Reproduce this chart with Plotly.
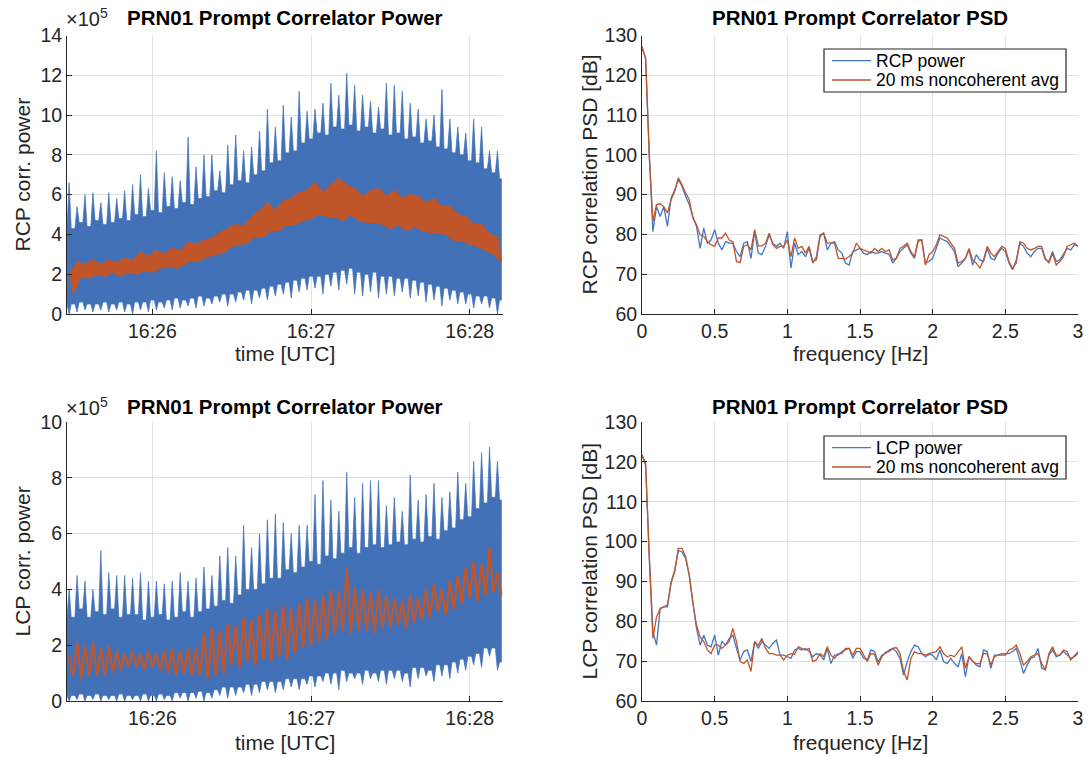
import plotly.graph_objects as go
from datetime import datetime, timedelta

# ---------------- data ----------------
# time axis: seconds relative to 16:26:00 UTC, samples every 3 s, half-steps at +1.5 s
T0 = datetime(2017, 1, 1, 16, 26, 0)
T_START_S = -31.5
T_STEP_S = 3.0
T_RANGE_S = [-32.3, 132.6]
time_ticks = ["16:26", "16:27", "16:28"]

# RCP prompt correlator power [x1e5]: spike tops, band top, band bottom, dips
rcp_peak = [6.6, 5.4, 6.0, 6.1, 5.6, 6.1, 5.8, 6.2, 6.5, 7.0, 6.3,
            8.2, 7.1, 6.9, 6.7, 8.9, 7.4, 8.0, 8.0, 7.2, 8.5,
            9.0, 8.2, 8.4, 9.2, 10.3, 9.4, 10.5, 9.9, 11.2, 10.2,
            10.3, 10.6, 11.6, 11.0, 12.1, 11.5, 11.0, 10.7, 10.4, 11.6,
            11.5, 11.2, 10.6, 10.3, 9.8, 10.0, 11.3, 9.8, 9.4, 9.1,
            9.8, 9.4, 8.2, 8.2]
rcp_top = [4.3, 4.6, 4.4, 4.7, 4.5, 4.6, 4.8, 4.7, 5.0, 4.9, 5.2,
           5.1, 5.4, 5.3, 5.6, 5.5, 5.8, 5.9, 6.2, 6.1, 6.5,
           6.7, 6.6, 7.0, 7.2, 7.6, 7.7, 8.1, 8.2, 8.6, 8.8,
           9.1, 9.0, 9.4, 9.3, 9.5, 9.2, 9.4, 9.1, 9.3, 9.0,
           9.1, 8.8, 8.9, 8.6, 8.7, 8.4, 8.3, 8.1, 8.0, 7.7,
           7.6, 7.3, 7.1, 6.8]
rcp_bottom = [0.5, 0.6, 0.5, 0.5, 0.6, 0.5, 0.6, 0.5, 0.6, 0.6, 0.7,
              0.6, 0.7, 0.8, 0.7, 0.8, 0.9, 0.8, 0.9, 1.0, 1.0,
              1.1, 1.2, 1.2, 1.3, 1.4, 1.5, 1.6, 1.7, 1.8, 1.9,
              1.9, 2.0, 2.1, 2.2, 2.3, 2.1, 2.0, 2.1, 1.9, 1.9,
              1.8, 1.8, 1.7, 1.6, 1.5, 1.4, 1.3, 1.2, 1.1, 1.0,
              0.9, 0.9, 0.8, 0.7]
rcp_dip = [0.0, 0.1, 0.2, 0.1, 0.2, 0.1, 0.2, 0.1, 0.0, 0.2, 0.1,
           0.2, 0.3, 0.2, 0.3, 0.4, 0.3, 0.4, 0.5, 0.6, 0.4,
           0.6, 0.7, 0.5, 0.8, 0.7, 0.9, 1.0, 0.8, 1.1, 1.2,
           1.3, 1.0, 1.4, 1.2, 1.5, 1.0, 0.9, 1.1, 0.8, 1.0,
           0.9, 1.1, 0.8, 0.9, 0.6, 0.7, 0.4, 0.7, 0.5, 0.5,
           0.3, 0.5, 0.3, 0.0]
# RCP 20 ms noncoherent average: upper / lower values
rcp_avg_hi = [2.0, 2.6, 2.5, 2.7, 2.5, 2.7, 2.6, 2.8, 2.7, 3.1, 2.9,
              3.2, 3.0, 3.3, 3.2, 3.6, 3.5, 3.7, 3.8, 4.1, 4.3,
              4.5, 4.4, 4.9, 5.2, 5.6, 5.2, 5.7, 5.8, 6.1, 6.2,
              6.6, 6.1, 6.5, 6.8, 6.5, 6.3, 5.9, 6.2, 6.3, 5.9,
              6.2, 5.8, 6.0, 5.9, 5.6, 5.8, 5.4, 5.4, 5.0, 4.9,
              4.5, 4.5, 4.0, 3.9]
rcp_avg_lo = [1.0, 1.9, 1.8, 2.0, 1.9, 2.1, 1.9, 2.1, 2.0, 2.2, 2.1,
              2.3, 2.4, 2.3, 2.5, 2.7, 2.7, 2.9, 3.0, 3.1, 3.4,
              3.5, 3.6, 3.9, 3.9, 4.2, 4.2, 4.5, 4.5, 4.7, 4.8,
              5.0, 4.9, 4.9, 4.7, 5.0, 4.7, 4.6, 4.6, 4.5, 4.3,
              4.5, 4.2, 4.4, 4.2, 4.1, 4.1, 4.0, 3.7, 3.7, 3.5,
              3.4, 3.2, 3.0, 2.6]

# LCP prompt correlator power [x1e5]
lcp_peak = [4.0, 4.5, 4.3, 4.0, 5.4, 4.6, 4.5, 4.5, 4.4, 4.6, 4.3,
            4.3, 4.2, 4.3, 4.6, 4.3, 4.4, 4.8, 4.5, 5.2, 5.5,
            5.2, 6.3, 5.5, 6.0, 6.5, 6.7, 6.4, 6.0, 6.3, 6.3,
            7.4, 7.9, 7.2, 6.8, 8.2, 7.3, 7.8, 7.9, 7.9, 7.0,
            7.3, 6.8, 8.1, 7.2, 7.4, 7.8, 7.3, 7.5, 8.2, 7.8,
            8.6, 8.9, 9.1, 8.6]
lcp_top = [3.0, 3.3, 3.0, 3.2, 3.1, 3.3, 3.0, 3.1, 3.1, 2.9, 3.0,
           3.1, 2.9, 3.0, 3.2, 3.0, 3.2, 3.3, 3.4, 3.6, 3.5,
           3.8, 4.0, 4.0, 4.2, 4.4, 4.4, 4.7, 4.6, 4.8, 5.0,
           4.9, 5.2, 5.1, 5.3, 5.5, 5.3, 5.5, 5.6, 5.5, 5.6,
           5.7, 5.6, 5.8, 5.7, 5.9, 5.8, 6.1, 6.2, 6.5, 6.6,
           6.9, 7.1, 7.3, 7.2]
lcp_bottom = [0.2, 0.25, 0.2, 0.25, 0.2, 0.2, 0.25, 0.2, 0.2, 0.25, 0.2,
              0.25, 0.2, 0.3, 0.3, 0.3, 0.35, 0.3, 0.4, 0.5, 0.5,
              0.5, 0.6, 0.6, 0.7, 0.7, 0.7, 0.8, 0.8, 0.8, 0.9,
              0.9, 1.0, 1.0, 1.1, 1.0, 1.0, 1.1, 1.0, 1.1, 1.1,
              1.1, 1.0, 1.2, 1.2, 1.1, 1.3, 1.3, 1.4, 1.5, 1.6,
              1.7, 1.9, 1.9, 1.4]
lcp_dip = [0.0, 0.05, 0.0, 0.05, 0.0, 0.05, 0.0, 0.0, 0.05, 0.0, 0.0,
           0.0, 0.05, 0.0, 0.1, 0.0, 0.1, 0.0, 0.1, 0.2, 0.1,
           0.2, 0.3, 0.2, 0.3, 0.4, 0.3, 0.4, 0.5, 0.4, 0.6,
           0.5, 0.7, 0.6, 0.4, 0.7, 0.8, 0.6, 0.8, 0.7, 0.6,
           0.8, 0.7, 0.5, 0.8, 0.9, 0.7, 0.9, 0.8, 1.0, 1.1,
           1.3, 1.2, 1.6, 1.1]
lcp_avg_hi = [1.6, 2.1, 2.0, 2.1, 1.9, 2.0, 1.8, 1.7, 1.8, 1.7, 1.8,
              1.7, 1.8, 1.9, 1.8, 1.9, 1.9, 2.4, 2.6, 2.5, 2.8,
              2.7, 3.0, 2.9, 3.1, 3.3, 3.2, 3.4, 3.3, 3.5, 3.7,
              3.6, 3.8, 4.0, 3.9, 4.8, 4.1, 4.0, 3.9, 4.0, 3.8,
              3.7, 3.6, 3.8, 3.7, 4.0, 4.2, 4.0, 4.3, 4.5, 4.8,
              5.0, 4.9, 5.5, 4.6]
lcp_avg_lo = [0.9, 0.8, 0.9, 0.9, 0.9, 1.0, 1.1, 1.2, 1.2, 1.1, 1.2,
              1.1, 1.0, 0.9, 1.0, 0.9, 0.9, 0.8, 0.9, 1.0, 1.3,
              1.2, 1.4, 1.3, 1.5, 1.4, 1.6, 1.5, 1.7, 1.9, 2.0,
              2.1, 2.2, 2.4, 2.5, 2.4, 2.5, 2.5, 2.4, 2.6, 2.6,
              2.7, 2.6, 2.8, 2.9, 3.0, 3.2, 3.1, 3.3, 3.5, 3.7,
              3.6, 3.8, 3.9, 3.8]

# PSD, frequency grid 0 .. 3 Hz every 0.025 Hz
freq = [round(0.025 * i, 3) for i in range(121)]
rcp_psd = [126.9, 124.4, 100.5, 80.7, 87.0, 84.5, 87.0, 82.0, 89.1, 91.2,
           93.8, 92.1, 89.6, 87.5, 84.5, 82.0, 76.5, 81.6, 77.8, 78.6,
           81.2, 77.8, 76.1, 78.2, 77.8, 77.8, 75.7, 74.4, 77.8, 78.2,
           74.0, 80.7, 75.3, 74.9, 77.0, 79.9, 77.8, 77.0, 77.8, 76.5,
           80.7, 71.5, 77.8, 74.9, 75.7, 74.4, 76.5, 72.8, 74.4, 79.9,
           80.3, 76.1, 77.8, 78.2, 76.1, 75.3, 72.8, 72.3, 75.7, 76.1,
           76.5, 75.3, 74.9, 75.7, 75.3, 75.3, 75.7, 75.3, 75.0, 72.8,
           74.0, 75.7, 76.5, 77.4, 75.3, 74.0, 78.2, 78.6, 72.8, 73.2,
           74.0, 76.5, 79.1, 78.6, 78.2, 77.0, 75.7, 71.9, 72.8, 74.0,
           76.1, 72.3, 74.9, 73.6, 73.2, 76.5, 74.0, 73.6, 75.3, 76.5,
           75.7, 72.8, 71.1, 73.6, 77.8, 77.0, 75.3, 74.4, 75.7, 76.5,
           76.5, 73.6, 73.2, 75.7, 73.2, 73.6, 74.9, 76.5, 76.1, 77.4,
           77.0]
rcp_psd_avg = [127.3, 124.0, 99.5, 83.3, 87.5, 87.7, 87.0, 85.4, 88.7, 90.8,
               94.2, 92.5, 90.4, 88.7, 84.1, 82.4, 79.9, 79.5, 78.2, 77.4,
               77.0, 79.1, 79.1, 80.3, 78.6, 78.2, 73.2, 72.9, 77.0, 77.4,
               76.1, 81.2, 77.1, 77.1, 77.8, 80.3, 77.4, 76.5, 77.0, 77.0,
               78.6, 74.4, 79.1, 76.5, 77.0, 75.3, 77.0, 73.2, 73.6, 79.5,
               80.3, 77.8, 77.8, 77.8, 74.0, 74.0, 73.8, 74.4, 75.3, 77.8,
               76.5, 76.1, 75.7, 75.3, 76.5, 75.7, 76.5, 75.7, 76.1, 73.6,
               74.0, 76.5, 77.0, 77.8, 75.7, 74.4, 78.6, 78.6, 72.3, 74.9,
               75.7, 77.4, 79.9, 79.5, 79.1, 77.8, 76.5, 72.8, 73.2, 74.0,
               76.5, 73.6, 72.8, 71.5, 73.6, 77.0, 75.3, 74.4, 75.7, 77.0,
               76.5, 73.2, 71.5, 72.8, 78.2, 77.8, 76.5, 76.1, 76.5, 77.0,
               77.0, 74.0, 72.8, 75.3, 72.3, 73.2, 74.4, 77.0, 77.4, 77.8,
               77.0]
lcp_psd = [121.7, 119.1, 96.6, 77.4, 74.0, 83.2, 83.6, 83.6, 89.9, 92.8,
           97.8, 97.4, 95.8, 91.6, 84.9, 78.2, 74.0, 76.5, 74.0, 73.6,
           76.5, 71.5, 74.9, 74.0, 75.7, 76.5, 73.2, 70.3, 72.4, 72.8,
           69.9, 74.9, 73.2, 74.9, 74.0, 73.2, 74.5, 75.3, 71.5, 71.5,
           71.1, 70.7, 72.8, 73.2, 72.8, 73.2, 72.4, 71.1, 71.9, 71.5,
           70.3, 73.2, 69.4, 71.5, 71.5, 72.4, 72.8, 73.2, 70.7, 72.4,
           72.4, 70.7, 70.3, 72.8, 72.4, 69.8, 71.5, 71.9, 72.8, 73.2,
           72.4, 70.7, 66.5, 69.9, 72.4, 74.0, 73.6, 71.9, 71.1, 71.7,
           71.5, 70.3, 72.8, 69.9, 69.4, 70.7, 69.4, 68.6, 71.9, 66.1,
           71.1, 69.9, 69.0, 68.6, 72.8, 72.4, 68.2, 71.5, 71.5, 71.9,
           71.9, 71.9, 72.4, 73.2, 70.3, 66.9, 69.0, 70.7, 71.1, 73.2,
           68.2, 67.8, 71.5, 72.8, 71.1, 71.5, 72.4, 71.5, 70.7, 71.1,
           71.9]
lcp_psd_avg = [121.8, 119.6, 95.8, 75.7, 81.1, 83.2, 83.6, 84.1, 89.5, 92.4,
               98.3, 98.3, 96.2, 91.6, 84.5, 79.0, 76.1, 74.9, 72.8, 71.9,
               74.0, 74.0, 73.2, 74.0, 74.9, 78.2, 74.9, 69.9, 69.4, 70.3,
               67.4, 74.9, 74.0, 75.7, 73.2, 71.9, 71.9, 71.5, 71.5, 70.3,
               71.5, 71.9, 71.7, 73.6, 73.2, 72.8, 73.2, 69.9, 70.3, 71.9,
               71.1, 73.6, 71.5, 70.7, 71.9, 71.9, 73.2, 73.2, 71.5, 73.2,
               73.2, 71.5, 69.9, 71.9, 71.7, 69.0, 71.1, 72.2, 72.4, 73.2,
               73.4, 71.9, 67.4, 65.3, 70.7, 72.4, 71.9, 71.9, 71.5, 71.9,
               72.2, 72.4, 73.6, 71.9, 71.1, 71.5, 71.1, 72.4, 73.6, 68.2,
               71.1, 69.9, 69.4, 69.4, 71.9, 71.9, 69.0, 71.1, 71.5, 71.5,
               71.5, 72.8, 73.2, 74.0, 71.9, 69.0, 69.9, 71.1, 71.5, 71.9,
               69.4, 67.8, 71.9, 73.6, 71.5, 71.5, 72.8, 72.4, 70.3, 71.5,
               72.4]

legend_top = ["RCP power", "20 ms noncoherent avg"]
legend_bottom = ["LCP power", "20 ms noncoherent avg"]

# ---------------- styling ----------------
W, H = 1090, 757
BLUE = "#4271B8"
BLUE_LINE = "#4477C2"
ORANGE = "#C1552A"
GRID = "#E1E1E1"
AX = "#262626"
FONT = "Liberation Sans, Arial, Helvetica, sans-serif"
TICK_SIZE = 19.5
LABEL_SIZE = 21
TITLE_SIZE = 20.5
LEGEND_SIZE = 17.5
SPIKE_HALF = 0.8  # half width (s) of a spike foot


def ts(sec):
    return T0 + timedelta(seconds=sec)


def spiky_edge(tips, base):
    """edge made of narrow spikes (tips at t_k) standing on the band level between them"""
    xs, ys = [], []
    for k in range(len(tips)):
        tk = T_START_S + T_STEP_S * k
        prev = base[k - 1] if k > 0 else base[0]
        xs += [ts(tk - SPIKE_HALF), ts(tk), ts(tk + SPIKE_HALF), ts(tk + 1.5)]
        ys += [prev, tips[k], base[k], base[k]]
    return xs, ys


def spiky_band(peak, top, dip, bottom):
    ux, uy = spiky_edge(peak, top)
    lx, ly = spiky_edge(dip, bottom)
    return ux + lx[::-1], uy + ly[::-1]


def simple_band(hi_vals, lo_vals):
    ux, uy, lx, ly = [], [], [], []
    for k in range(len(hi_vals)):
        tk = T_START_S + T_STEP_S * k
        ux.append(ts(tk)); uy.append(hi_vals[k])
        lx.append(ts(tk + 1.5)); ly.append(lo_vals[k])
    return ux + lx[::-1], uy + ly[::-1]


def zigzag(hi_vals, lo_vals):
    xs, ys = [], []
    for k in range(len(hi_vals)):
        tk = T_START_S + T_STEP_S * k
        xs += [ts(tk), ts(tk + 1.5)]
        ys += [hi_vals[k], lo_vals[k]]
    return xs, ys


fig = go.Figure()

# top-left: RCP power
bx, by = spiky_band(rcp_peak, rcp_top, rcp_dip, rcp_bottom)
fig.add_trace(go.Scatter(x=bx, y=by, mode="lines", fill="toself", fillcolor=BLUE,
                         line=dict(color=BLUE, width=0.7), showlegend=False, name="RCP power",
                         xaxis="x", yaxis="y", hoverinfo="skip"))
ox, oy = simple_band(rcp_avg_hi, rcp_avg_lo)
fig.add_trace(go.Scatter(x=ox, y=oy, mode="lines", fill="toself", fillcolor=ORANGE,
                         line=dict(color=ORANGE, width=1.2), showlegend=False,
                         name="20 ms noncoherent avg", xaxis="x", yaxis="y", hoverinfo="skip"))

# bottom-left: LCP power
bx, by = spiky_band(lcp_peak, lcp_top, lcp_dip, lcp_bottom)
fig.add_trace(go.Scatter(x=bx, y=by, mode="lines", fill="toself", fillcolor=BLUE,
                         line=dict(color=BLUE, width=0.7), showlegend=False, name="LCP power",
                         xaxis="x3", yaxis="y3", hoverinfo="skip"))
zx, zy = zigzag(lcp_avg_hi, lcp_avg_lo)
fig.add_trace(go.Scatter(x=zx, y=zy, mode="lines", line=dict(color=ORANGE, width=2.2),
                         showlegend=False, name="20 ms noncoherent avg",
                         xaxis="x3", yaxis="y3", hoverinfo="skip"))

# top-right: RCP PSD
fig.add_trace(go.Scatter(x=freq, y=rcp_psd, mode="lines", name=legend_top[0],
                         line=dict(color=BLUE_LINE, width=1.3), xaxis="x2", yaxis="y2",
                         showlegend=False))
fig.add_trace(go.Scatter(x=freq, y=rcp_psd_avg, mode="lines", name=legend_top[1],
                         line=dict(color=ORANGE, width=1.3), xaxis="x2", yaxis="y2",
                         showlegend=False))
# bottom-right: LCP PSD
fig.add_trace(go.Scatter(x=freq, y=lcp_psd, mode="lines", name=legend_bottom[0],
                         line=dict(color=BLUE_LINE, width=1.3), xaxis="x4", yaxis="y4",
                         showlegend=False))
fig.add_trace(go.Scatter(x=freq, y=lcp_psd_avg, mode="lines", name=legend_bottom[1],
                         line=dict(color=ORANGE, width=1.3), xaxis="x4", yaxis="y4",
                         showlegend=False))

# ---------------- axes ----------------
XL = [67 / W, 503 / W]
XR = [642 / W, 1078 / W]
YT = [(H - 314) / H, (H - 35.5) / H]
YB = [(H - 701) / H, (H - 422) / H]

common = dict(showline=True, linecolor=AX, linewidth=1, mirror=False,
              ticks="inside", ticklen=5, tickcolor=AX, tickwidth=1,
              showgrid=True, gridcolor=GRID, gridwidth=1, zeroline=False,
              tickfont=dict(family=FONT, size=TICK_SIZE, color=AX),
              automargin=False, fixedrange=True)

time_tickvals = [ts(0), ts(60), ts(120)]
xtime = dict(common, type="date", range=[ts(T_RANGE_S[0]), ts(T_RANGE_S[1])],
             tickvals=time_tickvals, ticktext=time_ticks)
xfreq = dict(common, range=[0, 3], tickvals=[0, 0.5, 1, 1.5, 2, 2.5, 3],
             ticktext=["0", "0.5", "1", "1.5", "2", "2.5", "3"])
ydb = dict(common, range=[60, 130], tickvals=[60, 70, 80, 90, 100, 110, 120, 130])

fig.update_layout(
    xaxis=dict(xtime, domain=XL, anchor="y"),
    yaxis=dict(common, domain=YT, anchor="x", range=[0, 14], tickvals=list(range(0, 15, 2))),
    xaxis2=dict(xfreq, domain=XR, anchor="y2"),
    yaxis2=dict(ydb, domain=YT, anchor="x2"),
    xaxis3=dict(xtime, domain=XL, anchor="y3"),
    yaxis3=dict(common, domain=YB, anchor="x3", range=[0, 10], tickvals=list(range(0, 11, 2))),
    xaxis4=dict(xfreq, domain=XR, anchor="y4"),
    yaxis4=dict(ydb, domain=YB, anchor="x4"),
)

# ---------------- texts ----------------
ann = []
shapes = []


def text(t, x, y, size, bold=False, angle=0, xanchor="center", color=AX):
    ann.append(dict(text=("<b>%s</b>" % t) if bold else t, x=x / W, y=1 - y / H,
                    xref="paper", yref="paper", showarrow=False, textangle=angle,
                    xanchor=xanchor, yanchor="middle",
                    font=dict(family=FONT, size=size, color=color)))


def legend_box(top_px, labels):
    shapes.append(dict(type="rect", xref="paper", yref="paper",
                       x0=824 / W, x1=1066 / W, y0=1 - (top_px + 43) / H, y1=1 - top_px / H,
                       line=dict(color=AX, width=1.2), fillcolor="white", layer="above"))
    for i, (lab, col) in enumerate(zip(labels, [BLUE_LINE, ORANGE])):
        yy = top_px + 11.7 + 19.3 * i
        shapes.append(dict(type="line", xref="paper", yref="paper",
                           x0=832 / W, x1=871 / W, y0=1 - yy / H, y1=1 - yy / H,
                           line=dict(color=col, width=1.3), layer="above"))
        text(lab, 874, yy, LEGEND_SIZE, xanchor="left", color="#000000")


legend_box(49, legend_top)
legend_box(436, legend_bottom)

text("PRN01 Prompt Correlator Power", 285, 17, TITLE_SIZE, bold=True, color="#000000")
text("PRN01 Prompt Correlator PSD", 860, 17, TITLE_SIZE, bold=True, color="#000000")
text("PRN01 Prompt Correlator Power", 285, 406, TITLE_SIZE, bold=True, color="#000000")
text("PRN01 Prompt Correlator PSD", 860, 406, TITLE_SIZE, bold=True, color="#000000")
text("×10<sup>5</sup>", 64, 18, 20, xanchor="left")
text("×10<sup>5</sup>", 64, 406, 20, xanchor="left")
text("RCP corr. power", 22, 174.5, LABEL_SIZE, angle=-90)
text("LCP corr. power", 22, 561.5, LABEL_SIZE, angle=-90)
text("RCP correlation PSD [dB]", 589, 174.5, LABEL_SIZE, angle=-90)
text("LCP correlation PSD [dB]", 589, 561.5, LABEL_SIZE, angle=-90)
text("time [UTC]", 285, 354, LABEL_SIZE)
text("time [UTC]", 285, 742, LABEL_SIZE)
text("frequency [Hz]", 860, 354, LABEL_SIZE)
text("frequency [Hz]", 860, 742, LABEL_SIZE)

fig.update_layout(
    annotations=ann, shapes=shapes,
    width=W, height=H, autosize=False,
    margin=dict(l=0, r=0, t=0, b=0, pad=0),
    paper_bgcolor="white", plot_bgcolor="white",
    font=dict(family=FONT, color=AX),
    showlegend=False,
)

fig.write_html("out.html", config={"displayModeBar": False, "staticPlot": True})
